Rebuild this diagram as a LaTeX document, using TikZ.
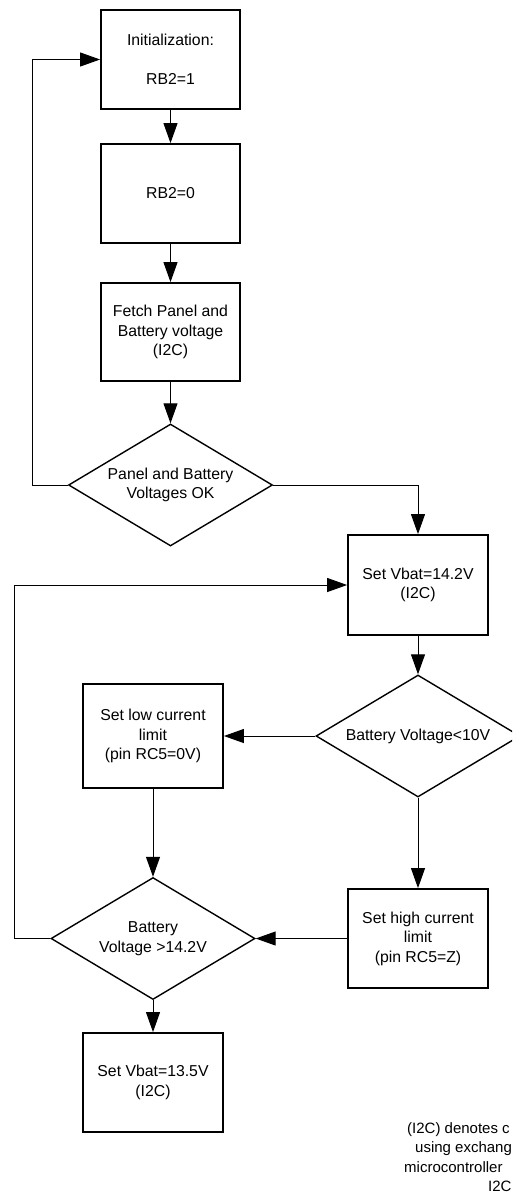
\documentclass[tikz,border=0pt]{standalone}
\usepackage{fontspec}
\setmainfont{Liberation Sans}
\usetikzlibrary{shapes.geometric,arrows.meta}
\begin{document}
\begin{tikzpicture}[x=1pt,y=-1pt,
  every node/.style={font=\fontsize{15.8}{19.5}\selectfont, align=center, inner sep=0pt},
  procbox/.style={draw, line width=1.8pt, rectangle, minimum width=139pt},
  decision/.style={draw, line width=1.4pt, diamond, minimum width=204pt, minimum height=122pt, aspect=1.67},
  conn/.style={line width=1pt},
  flow/.style={conn, -{Triangle[length=20pt,width=14pt]}},
  note/.style={anchor=base west, font=\fontsize{15}{19}\selectfont}
]
\useasboundingbox (0,0) rectangle (512,1194);
\clip (0,0) rectangle (512,1194);

\node[procbox, minimum height=99pt] (b1) at (170.5,59.5) {Initialization:\\[19.5pt]RB2=1};
\node[procbox, minimum height=99pt] (b2) at (170.5,193.5) {RB2=0};
\node[procbox, minimum height=98pt] (b3) at (170.5,332) {Fetch Panel and\\Battery voltage\\(I2C)};
\node[decision] (d1) at (170.5,485) {Panel and Battery\\Voltages OK};
\node[procbox, minimum width=140pt, minimum height=100pt] (b4) at (418,585) {Set Vbat=14.2V\\(I2C)};
\node[decision] (d2) at (418,736) {Battery Voltage<10V};
\node[procbox, minimum width=140pt, minimum height=104pt] (b5) at (153,736) {Set low current\\limit\\(pin RC5=0V)};
\node[decision] (d3) at (153,938.5) {Battery\\Voltage >14.2V};
\node[procbox, minimum width=140pt, minimum height=99pt] (b6) at (418,938.5) {Set high current\\limit\\(pin RC5=Z)};
\node[procbox, minimum width=140pt, minimum height=99pt] (b7) at (153,1082.5) {Set Vbat=13.5V\\(I2C)};

\coordinate (l1) at (32,0);
\coordinate (l2) at (14,0);

\draw[flow] (b1.south) -- (b2.north);
\draw[flow] (b2.south) -- (b3.north);
\draw[flow] (b3.south) -- (d1.north);
\draw[flow] (d1.west) -- (d1.west -| l1) |- (b1.west);
\draw[flow] (d1.east) -| (b4.north);
\draw[flow] (b4.south) -- (d2.north);
\draw[flow] (d2.west) -- (b5.east);
\draw[flow] (b5.south) -- (d3.north);
\draw[flow] (d2.south) -- (b6.north);
\draw[flow] (b6.west) -- (d3.east);
\draw[flow] (d3.south) -- (b7.north);
\draw[flow] (d3.west) -- (d3.west -| l2) |- (b4.west);

\node[note] (n1) at (407,1133) {(I2C) denotes c};
\node[note] (n2) at (415,1152.5) {using exchang};
\node[note] (n3) at (404,1172) {microcontroller};
\node[note] (n4) at (488,1191.5) {I2C};
\end{tikzpicture}
\end{document}
